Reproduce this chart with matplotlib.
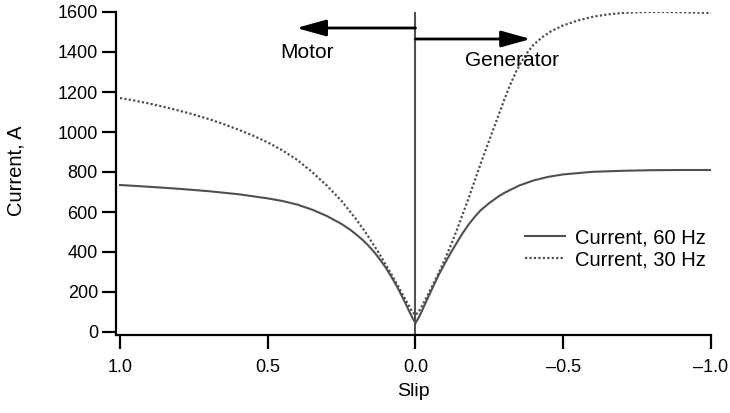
import matplotlib
matplotlib.use("Agg")
import matplotlib.pyplot as plt

plt.rcParams['font.family'] = ['Liberation Sans', 'DejaVu Sans']

# Slip values (x) and currents
slip_60 = [1.0, 0.9, 0.8, 0.7, 0.6, 0.5, 0.45, 0.4, 0.35, 0.3, 0.25, 0.22, 0.2, 0.18, 0.16, 0.14, 0.12, 0.1,
           0.08, 0.06, 0.04, 0.02, 0.01, 0.0,
           -0.01, -0.02, -0.04, -0.06, -0.08, -0.1, -0.12, -0.14, -0.16, -0.18, -0.2, -0.22, -0.25, -0.28,
           -0.3, -0.35, -0.4, -0.45, -0.5, -0.6, -0.7, -0.8, -0.9, -1.0]
cur_60 = [735, 726, 716, 704, 689, 668, 655, 637, 612, 580, 540, 510, 487, 462, 433, 400, 362, 320,
          272, 220, 162, 100, 70, 45,
          70, 100, 165, 228, 290, 345, 398, 447, 495, 538, 575, 608, 645, 677,
          695, 732, 758, 776, 788, 801, 806, 809, 810, 810]

slip_30 = [1.0, 0.95, 0.9, 0.85, 0.8, 0.75, 0.7, 0.65, 0.6, 0.55, 0.5, 0.45, 0.4, 0.35, 0.3, 0.25, 0.2,
           0.17, 0.15, 0.12, 0.1, 0.08, 0.06, 0.04, 0.02, 0.01, 0.0,
           -0.01, -0.02, -0.04, -0.06, -0.08, -0.1, -0.12, -0.14, -0.16, -0.18, -0.2, -0.22, -0.24, -0.26,
           -0.28, -0.3, -0.32, -0.34, -0.36, -0.38, -0.4, -0.43, -0.46, -0.5, -0.55, -0.6, -0.65, -0.7,
           -0.75, -0.8, -0.85, -0.9, -0.95, -1.0]
cur_30 = [1170, 1157, 1142, 1125, 1107, 1087, 1065, 1040, 1012, 982, 948, 908, 860, 800, 732, 655, 562,
          500, 455, 385, 335, 285, 232, 178, 125, 100, 85,
          100, 125, 180, 240, 300, 365, 435, 510, 590, 670, 755, 840, 920, 1000,
          1080, 1160, 1235, 1300, 1355, 1400, 1437, 1475, 1505, 1533, 1558, 1576, 1588, 1595,
          1599, 1600, 1600, 1599, 1597, 1595]

xticks = [1.0, 0.5, 0.0, -0.5, -1.0]
xtick_labels = ["1.0", "0.5", "0.0", "\u20130.5", "\u20131.0"]
yticks = [0, 200, 400, 600, 800, 1000, 1200, 1400, 1600]

fig = plt.figure(figsize=(7.30, 4.13), dpi=100)
ax = fig.add_axes([116 / 730, 1 - 335 / 413, (711 - 116) / 730, (335 - 12) / 413])

line_color = '#505050'
ax.plot(slip_60, cur_60, color=line_color, lw=1.5, label='Current, 60 Hz')
ax.plot(slip_30, cur_30, color=line_color, lw=1.6, linestyle=(0, (1, 1)), label='Current, 30 Hz')
ax.plot([0, 0], [-15, 1600], color=line_color, lw=1.5)

ax.set_xlim(1.0135, -1.0)
ax.set_ylim(-15, 1600)
ax.set_xticks(xticks)
ax.set_xticklabels(xtick_labels)
ax.set_yticks(yticks)

for s in ['top', 'right']:
    ax.spines[s].set_visible(False)
for s in ['left', 'bottom']:
    ax.spines[s].set_linewidth(1.6)
ax.tick_params(direction='out', length=10, width=1.6, labelsize=13)
ax.tick_params(axis='x', pad=7)
ax.tick_params(axis='y', pad=3)

ax.set_xlabel('Slip', fontsize=14)
ax.set_ylabel('Current, A', fontsize=14.5)
ax.yaxis.set_label_coords(-0.152, 0.51)
ax.xaxis.set_label_coords(0.5, -0.15)

arrow_kw = dict(arrowstyle='-|>,head_length=1.8,head_width=0.5', color='black', lw=2.0,
                shrinkA=0, shrinkB=0)
ax.annotate('', xy=(0.403, 1520), xytext=(0, 1520), arrowprops=arrow_kw)
ax.annotate('', xy=(-0.39, 1465), xytext=(0, 1465), arrowprops=arrow_kw)
ax.text(0.366, 1395, 'Motor', fontsize=15, ha='center', va='center')
ax.text(-0.325, 1355, 'Generator', fontsize=15, ha='center', va='center')

ax.legend(loc='upper left', bbox_to_anchor=(0.67, 0.362), frameon=False, fontsize=14.5,
          handlelength=2.0, handletextpad=0.5, labelspacing=0.15, borderpad=0)

fig.savefig('out.png', dpi=100)
